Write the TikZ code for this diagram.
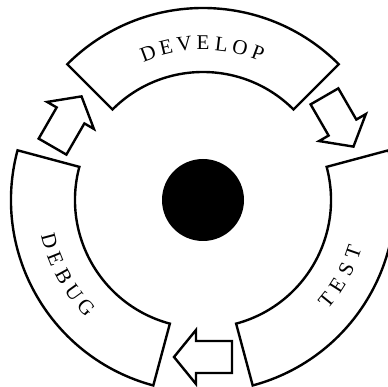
\documentclass[tikz,border=0pt]{standalone}
\usepackage{fontspec}
\setmainfont{Liberation Serif}
\begin{document}
\begin{tikzpicture}[x=1pt,y=1pt,
  seg/.style={draw=black,line width=2.4pt,fill=white,line join=miter},
  arr/.style={draw=black,line width=2.4pt,fill=white,line join=miter},
  letter/.style={font=\fontsize{21}{21}\selectfont,inner sep=0pt}]
\useasboundingbox (-203,-187) rectangle (185,200);
% ring segments
\foreach \s in {45,165,285} {
  \pgfmathsetmacro{\e}{\s+90}
  \draw[seg] (\s:192) arc[start angle=\s, end angle=\e, radius=192]
    -- (\e:128) arc[start angle=\e, end angle=\s, radius=128] -- cycle;
}
% arrows in the gaps
\foreach \a in {150,30,270} {
  \begin{scope}[shift={(\a:157)},rotate=\a-90]
    \draw[arr] (-29,-16) -- (7,-16) -- (7,-27) -- (29,0) -- (7,27) -- (7,16) -- (-29,16) -- cycle;
  \end{scope}
}
% centre disc
\fill[black] (0,0) circle[radius=41];
% labels
\foreach \l [count=\i] in {D,E,V,E,L,O,P} {
  \pgfmathsetmacro{\ang}{110.5-(\i-1)*6.83}
  \node[letter,rotate=\ang-90] (dev\i) at (\ang:157) {\l};
}
\foreach \l [count=\i] in {D,E,B,U,G} {
  \pgfmathsetmacro{\ang}{195+(\i-1)*6.9}
  \node[letter,rotate=\ang+90] (dbg\i) at (\ang:159) {\l};
}
\foreach \l [count=\i] in {T,E,S,T} {
  \pgfmathsetmacro{\ang}{-39+(\i-1)*6.6}
  \node[letter,rotate=\ang+90] (tst\i) at (\ang:159) {\l};
}
\end{tikzpicture}
\end{document}
